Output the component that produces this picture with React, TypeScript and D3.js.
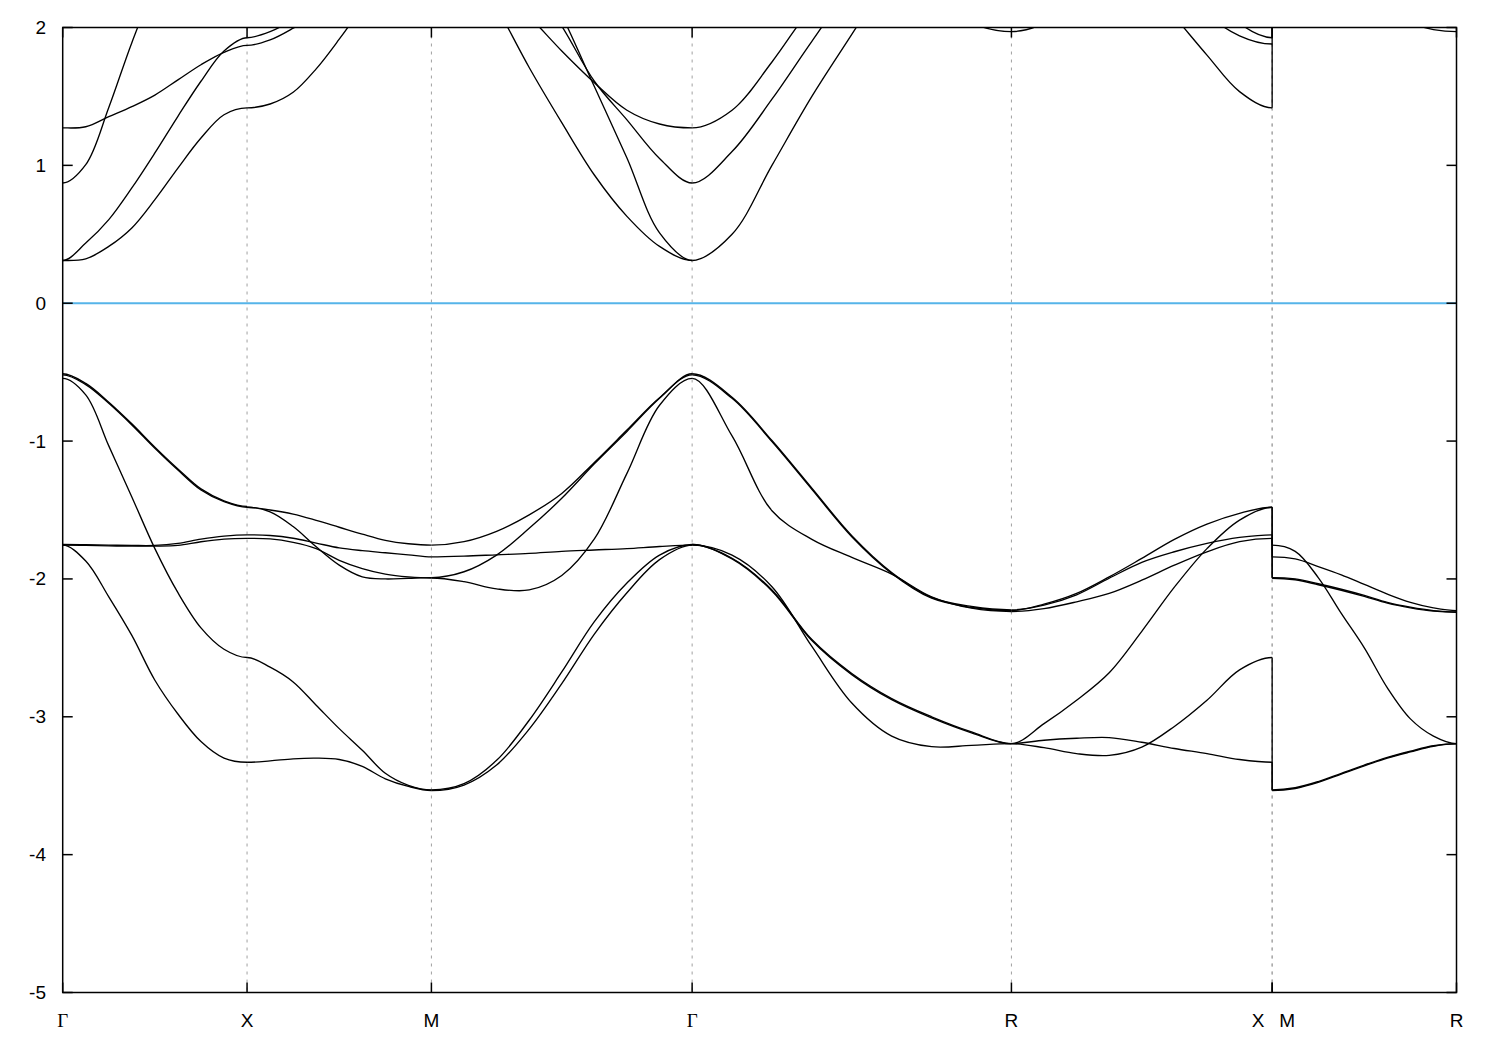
import React from 'react';
import * as d3 from 'd3';

// ---------- k-path ----------
const kNodeLabels = ['Γ', 'X', 'M', 'Γ', 'R', 'X', 'M', 'R'];
const kNodePos = [0, 0.5, 1.0, 1.7071, 2.5731, 3.2802, 3.2802, 3.7802];
const tSamples = [0, 0.125, 0.25, 0.375, 0.5, 0.625, 0.75, 0.875, 1];
const yTicks = [-5, -4, -3, -2, -1, 0, 1, 2];

// ---------- valence bands (eV), sampled along each segment ----------
const gxV1 = [-0.52, -0.59, -0.726, -0.883, -1.052, -1.21, -1.355, -1.44, -1.48];
const gxV2 = [-0.512, -0.582, -0.718, -0.875, -1.044, -1.202, -1.347, -1.433, -1.474];
const gxV3 = [-0.545, -0.665, -1.035, -1.405, -1.78, -2.1, -2.355, -2.51, -2.57];
const gxV4 = [-1.75, -1.752, -1.755, -1.757, -1.757, -1.742, -1.711, -1.689, -1.68];
const gxV5 = [-1.755, -1.757, -1.76, -1.762, -1.762, -1.757, -1.73, -1.711, -1.706];
const gxV6 = [-1.755, -1.87, -2.13, -2.41, -2.735, -2.98, -3.18, -3.3, -3.33];

const xmV1 = [-1.48, -1.5, -1.53, -1.575, -1.625, -1.675, -1.72, -1.745, -1.755];
const xmV2 = [-1.48, -1.513, -1.62, -1.767, -1.9, -1.985, -2.0, -1.995, -1.99];
const xmV3 = [-2.57, -2.64, -2.747, -2.916, -3.086, -3.243, -3.41, -3.497, -3.53];
const xmV4 = [-1.68, -1.685, -1.705, -1.74, -1.775, -1.795, -1.81, -1.825, -1.84];
const xmV5 = [-1.706, -1.71, -1.735, -1.78, -1.865, -1.925, -1.965, -1.985, -1.993];
const xmV6 = [-3.33, -3.32, -3.305, -3.3, -3.31, -3.36, -3.45, -3.505, -3.535];

const mgV1 = [-1.755, -1.73, -1.655, -1.535, -1.38, -1.155, -0.92, -0.685, -0.52];
const mgV2 = [-1.99, -1.948, -1.827, -1.633, -1.415, -1.165, -0.93, -0.69, -0.512];
const mgV3 = [-1.84, -1.835, -1.825, -1.815, -1.8, -1.79, -1.78, -1.765, -1.755];
const mgV4 = [-1.993, -2.02, -2.072, -2.08, -1.975, -1.71, -1.234, -0.74, -0.545];
const mgV5 = [-3.53, -3.485, -3.316, -3.025, -2.675, -2.31, -2.03, -1.827, -1.75];
const mgV6 = [-3.535, -3.495, -3.35, -3.09, -2.76, -2.4, -2.1, -1.86, -1.755];

const grV1 = [-0.52, -0.69, -1.004, -1.35, -1.694, -1.96, -2.14, -2.207, -2.23];
const grV2 = [-0.512, -0.682, -0.996, -1.342, -1.686, -1.953, -2.134, -2.2, -2.224];
const grV3 = [-0.545, -0.963, -1.505, -1.713, -1.844, -1.965, -2.13, -2.212, -2.236];
const grV4 = [-1.755, -1.827, -2.057, -2.49, -2.9, -3.14, -3.217, -3.207, -3.195];
const grV5 = [-1.75, -1.85, -2.08, -2.44, -2.686, -2.868, -3.0, -3.11, -3.195];
const grV6 = [-1.75, -1.855, -2.087, -2.447, -2.694, -2.876, -3.008, -3.116, -3.197];

const rxV1 = [-2.23, -2.183, -2.105, -1.985, -1.851, -1.713, -1.602, -1.524, -1.48];
const rxV2 = [-2.225, -2.19, -2.115, -1.995, -1.88, -1.803, -1.742, -1.699, -1.68];
const rxV3 = [-2.236, -2.215, -2.166, -2.105, -2.009, -1.9, -1.803, -1.73, -1.706];
const rxV4 = [-3.195, -3.05, -2.88, -2.68, -2.38, -2.06, -1.78, -1.573, -1.48];
const rxV5 = [-3.195, -3.17, -3.156, -3.151, -3.185, -3.23, -3.267, -3.31, -3.33];
const rxV6 = [-3.195, -3.224, -3.267, -3.28, -3.22, -3.07, -2.88, -2.66, -2.57];

const mrV1 = [-1.755, -1.8, -1.99, -2.25, -2.5, -2.79, -3.015, -3.14, -3.195];
const mrV2 = [-1.84, -1.855, -1.91, -1.97, -2.04, -2.11, -2.17, -2.21, -2.23];
const mrV3 = [-1.99, -2.0, -2.035, -2.075, -2.12, -2.17, -2.205, -2.23, -2.24];
const mrV4 = [-1.995, -2.006, -2.042, -2.082, -2.127, -2.176, -2.21, -2.234, -2.242];
const mrV5 = [-3.53, -3.515, -3.47, -3.41, -3.35, -3.295, -3.25, -3.21, -3.195];
const mrV6 = [-3.535, -3.52, -3.476, -3.416, -3.356, -3.3, -3.255, -3.214, -3.197];

// ---------- conduction bands (eV) ----------
const gxC1 = [0.31, 0.322, 0.412, 0.546, 0.751, 0.98, 1.198, 1.367, 1.417];
const gxC2 = [0.31, 0.436, 0.606, 0.836, 1.09, 1.356, 1.61, 1.83, 1.926];
const gxC3 = [0.872, 1.005, 1.42, 1.89, 2.3, 2.6, 2.85, 3.0, 3.1];
const gxC4 = [1.272, 1.28, 1.353, 1.426, 1.51, 1.62, 1.73, 1.82, 1.87];

const xmC1 = [1.417, 1.445, 1.53, 1.7, 1.915, 2.15, 2.4, 2.6, 2.7];
const xmC2 = [1.926, 1.97, 2.06, 2.2, 2.35, 2.5, 2.65, 2.75, 2.8];
const xmC4 = [1.87, 1.91, 1.995, 2.1, 2.25, 2.4, 2.55, 2.65, 2.7];

const mgC1 = [2.9, 2.55, 2.15, 1.71, 1.31, 0.93, 0.63, 0.412, 0.31];
const mgC2 = [3.6, 3.3, 2.95, 2.55, 2.09, 1.572, 1.053, 0.51, 0.31];
const mgC3 = [3.3, 3.0, 2.7, 2.35, 2.01, 1.61, 1.33, 1.05, 0.872];
const mgC4 = [2.9, 2.6, 2.3, 2.08, 1.83, 1.6, 1.4, 1.3, 1.272];

const grC1 = [0.31, 0.5, 1.0, 1.5, 1.95, 2.4, 2.8, 3.0, 3.1];
const grC2 = [0.872, 1.1, 1.48, 1.9, 2.3, 2.6, 2.8, 2.9, 3.0];
const grC3 = [1.272, 1.4, 1.75, 2.15, 2.45, 2.7, 2.85, 2.95, 3.0];
const grC4 = [3.5, 3.3, 3.1, 2.9, 2.7, 2.5, 2.2, 2.03, 1.97];

const rxC1 = [3.0, 2.9, 2.8, 2.6, 2.35, 2.08, 1.8, 1.535, 1.417];
const rxC2 = [3.3, 3.2, 3.1, 3.0, 2.8, 2.6, 2.3, 2.03, 1.926];
const rxC3 = [3.2, 3.1, 3.0, 2.8, 2.6, 2.4, 2.1, 1.94, 1.88];
const rxC4 = [1.97, 2.03, 2.2, 2.4, 2.6, 2.8, 2.9, 3.0, 3.0];

const mrC1 = [2.9, 2.68, 2.49, 2.33, 2.2, 2.1, 2.03, 1.985, 1.97];

// segments: [start node, end node] and the bands along them
const segments = [
  { nodes: [0, 1], bands: [gxV1, gxV2, gxV3, gxV4, gxV5, gxV6, gxC1, gxC2, gxC3, gxC4] },
  { nodes: [1, 2], bands: [xmV1, xmV2, xmV3, xmV4, xmV5, xmV6, xmC1, xmC2, xmC4] },
  { nodes: [2, 3], bands: [mgV1, mgV2, mgV3, mgV4, mgV5, mgV6, mgC1, mgC2, mgC3, mgC4] },
  { nodes: [3, 4], bands: [grV1, grV2, grV3, grV4, grV5, grV6, grC1, grC2, grC3, grC4] },
  { nodes: [4, 5], bands: [rxV1, rxV2, rxV3, rxV4, rxV5, rxV6, rxC1, rxC2, rxC3, rxC4] },
  { nodes: [6, 7], bands: [mrV1, mrV2, mrV3, mrV4, mrV5, mrV6, mrC1] },
];

export default function App() {
  const W = 1500, H = 1050;
  const left = 62.7, right = 1456.5, top = 27.5, bottom = 992.5;
  const x = d3.scaleLinear().domain([0, kNodePos[kNodePos.length - 1]]).range([left, right]);
  const y = d3.scaleLinear().domain([-5, 2]).range([bottom, top]);
  const line = d3
    .line<[number, number]>()
    .x((d) => x(d[0]))
    .y((d) => y(d[1]))
    .curve(d3.curveCatmullRom.alpha(0.5));

  const bandPaths: JSX.Element[] = [];
  const clips: JSX.Element[] = [];
  segments.forEach((seg, si) => {
    const k0 = kNodePos[seg.nodes[0]];
    const k1 = kNodePos[seg.nodes[1]];
    const x0 = x(k0), x1 = x(k1);
    clips.push(
      <clipPath id={`seg${si}`} key={`cp${si}`}>
        <rect x={x0} y={top} width={x1 - x0} height={bottom - top} />
      </clipPath>
    );
    const paths = seg.bands.map((vals, bi) => {
      const n = vals.length;
      // symmetric continuation beyond the high-symmetry points (zero slope there)
      const ext = [vals[1], ...vals, vals[n - 2]];
      const ts = [-tSamples[1], ...tSamples, 2 - tSamples[n - 2]];
      const pts = ext.map((v, i) => [k0 + (k1 - k0) * ts[i], v] as [number, number]);
      return <path key={`b${si}-${bi}`} d={line(pts) || ''} fill="none" stroke="#000" strokeWidth={1.35} />;
    });
    bandPaths.push(<g key={`sg${si}`} clipPath={`url(#seg${si})`}>{paths}</g>);
  });

  // connectors at the X|M discontinuity (sorted band energies joined)
  const endRX = segments[4].bands.map((b) => b[b.length - 1]).sort((a, b) => a - b);
  const startMR = segments[5].bands.map((b) => b[0]).sort((a, b) => a - b);
  const breakK = kNodePos[5];
  const connectors: JSX.Element[] = [];
  for (let i = 0; i < Math.min(endRX.length, startMR.length); i++) {
    connectors.push(
      <line key={`c${i}`} x1={x(breakK)} x2={x(breakK)} y1={y(endRX[i])} y2={y(startMR[i])}
        stroke="#000" strokeWidth={1.35} />
    );
  }

  const gridKs = kNodePos.filter((k, i) => i > 0 && i < kNodePos.length - 1);
  const labelDx = [0, 0, 0, 0, 0, -14, 15, 0];

  return (
    <svg width={W} height={H} style={{ position: 'absolute', left: 0, top: 0, background: '#fff' }}>
      <rect x={0} y={0} width={W} height={H} fill="#fff" />
      <defs>
        <clipPath id="plotclip">
          <rect x={left} y={top} width={right - left} height={bottom - top} />
        </clipPath>
        {clips}
      </defs>
      {gridKs.map((k, i) => (
        <line key={`g${i}`} x1={x(k)} x2={x(k)} y1={top} y2={bottom} stroke="#a0a0a0"
          strokeWidth={1} strokeDasharray="3,5" />
      ))}
      <line x1={left} x2={right} y1={y(0)} y2={y(0)} stroke="#56B4E9" strokeWidth={2} />
      {bandPaths}
      <g clipPath="url(#plotclip)">{connectors}</g>
      <rect x={left} y={top} width={right - left} height={bottom - top} fill="none" stroke="#000" strokeWidth={1.5} />
      {yTicks.map((t) => (
        <g key={`yt${t}`}>
          <line x1={left} x2={left + 10} y1={y(t)} y2={y(t)} stroke="#000" strokeWidth={1.5} />
          <line x1={right - 10} x2={right} y1={y(t)} y2={y(t)} stroke="#000" strokeWidth={1.5} />
          <text x={46} y={y(t)} textAnchor="end" dominantBaseline="central"
            fontFamily="'Liberation Sans', Arial, sans-serif" fontSize={19}>{t}</text>
        </g>
      ))}
      {kNodePos.map((k, i) => (
        <g key={`xt${i}`}>
          <line x1={x(k)} x2={x(k)} y1={bottom} y2={bottom - 10} stroke="#000" strokeWidth={1.5} />
          <line x1={x(k)} x2={x(k)} y1={top} y2={top + 10} stroke="#000" strokeWidth={1.5} />
          <text x={x(k) + labelDx[i]} y={1027} textAnchor="middle"
            fontFamily={kNodeLabels[i] === 'Γ' ? "'Liberation Serif', 'DejaVu Serif', serif" : "'Liberation Sans', Arial, sans-serif"}
            fontSize={19}>{kNodeLabels[i]}</text>
        </g>
      ))}
    </svg>
  );
}
